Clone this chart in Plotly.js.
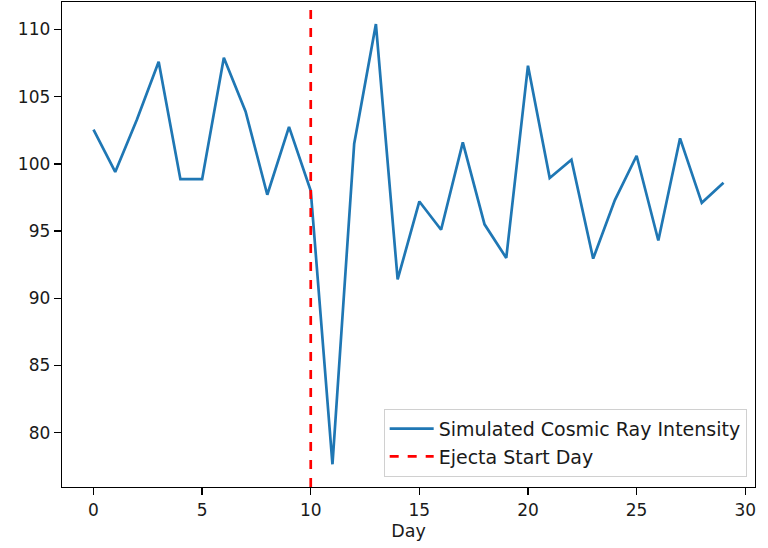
<!DOCTYPE html>
<html>
<head>
<meta charset="utf-8">
<script src="https://cdn.plot.ly/plotly-3.0.1.min.js"></script>
<style>html,body{margin:0;padding:0;background:#fff;}#chart{width:768px;height:548px;}</style>
</head>
<body>
<div id="chart"></div>
<script>
const days = [0,1,2,3,4,5,6,7,8,9,10,11,12,13,14,15,16,17,18,19,20,21,22,23,24,25,26,27,28,29];
const intensity = [102.55,99.4,103.3,107.6,98.86,98.86,107.9,103.9,97.7,102.75,98.0,77.65,101.5,110.4,91.4,97.2,95.1,101.6,95.5,93.0,107.3,98.95,100.3,92.95,97.3,100.6,94.3,101.9,97.1,98.6];
const ejectaDay = 10;
const seriesName = 'Simulated Cosmic Ray Intensity';
const ejectaName = 'Ejecta Start Day';
const xTicks = [0,5,10,15,20,25,30];
const yTicks = [80,85,90,95,100,105,110];

const fam = 'DejaVu Sans, sans-serif';
const txt = '#1a1a1a';

const traces = [{
  x: days, y: intensity, type: 'scatter', mode: 'lines', name: seriesName,
  line: {color: '#1f77b4', width: 2.7}
}];

const layout = {
  width: 768, height: 548,
  margin: {l: 62, r: 13, t: 2, b: 61},
  paper_bgcolor: '#fff', plot_bgcolor: '#fff',
  font: {family: fam, size: 17, color: txt},
  showlegend: true,
  legend: {
    x: 0.988, y: 0.021, xanchor: 'right', yanchor: 'bottom',
    bgcolor: 'rgba(255,255,255,0.8)', bordercolor: '#d0d0d0', borderwidth: 1,
    font: {family: fam, size: 19, color: txt},
    itemwidth: 44,
    tracegroupgap: 0
  },
  xaxis: {
    range: [-1.45, 30.45], tickvals: xTicks, ticktext: xTicks.map(String),
    showgrid: false, zeroline: false, showline: true, linecolor: '#000', linewidth: 1.3, mirror: true,
    ticks: 'outside', ticklen: 7, tickwidth: 1.3, tickcolor: '#000',
    tickfont: {family: fam, size: 17, color: txt},
    title: {text: 'Day', font: {family: fam, size: 17.5, color: txt}, standoff: 6}
  },
  yaxis: {
    range: [75.96, 112.04], tickvals: yTicks, ticktext: yTicks.map(String),
    showgrid: false, zeroline: false, showline: true, linecolor: '#000', linewidth: 1.3, mirror: true,
    ticks: 'outside', ticklen: 7, tickwidth: 1.3, tickcolor: '#000',
    tickfont: {family: fam, size: 17, color: txt}
  },
  shapes: [{
    type: 'line', xref: 'x', yref: 'paper', x0: ejectaDay, x1: ejectaDay, y0: 0, y1: 1,
    line: {color: '#ff0000', width: 2.7, dash: 'dash'},
    showlegend: true, name: ejectaName
  }]
};

Plotly.newPlot('chart', traces, layout, {displayModeBar: false, staticPlot: true});
</script>
</body>
</html>
